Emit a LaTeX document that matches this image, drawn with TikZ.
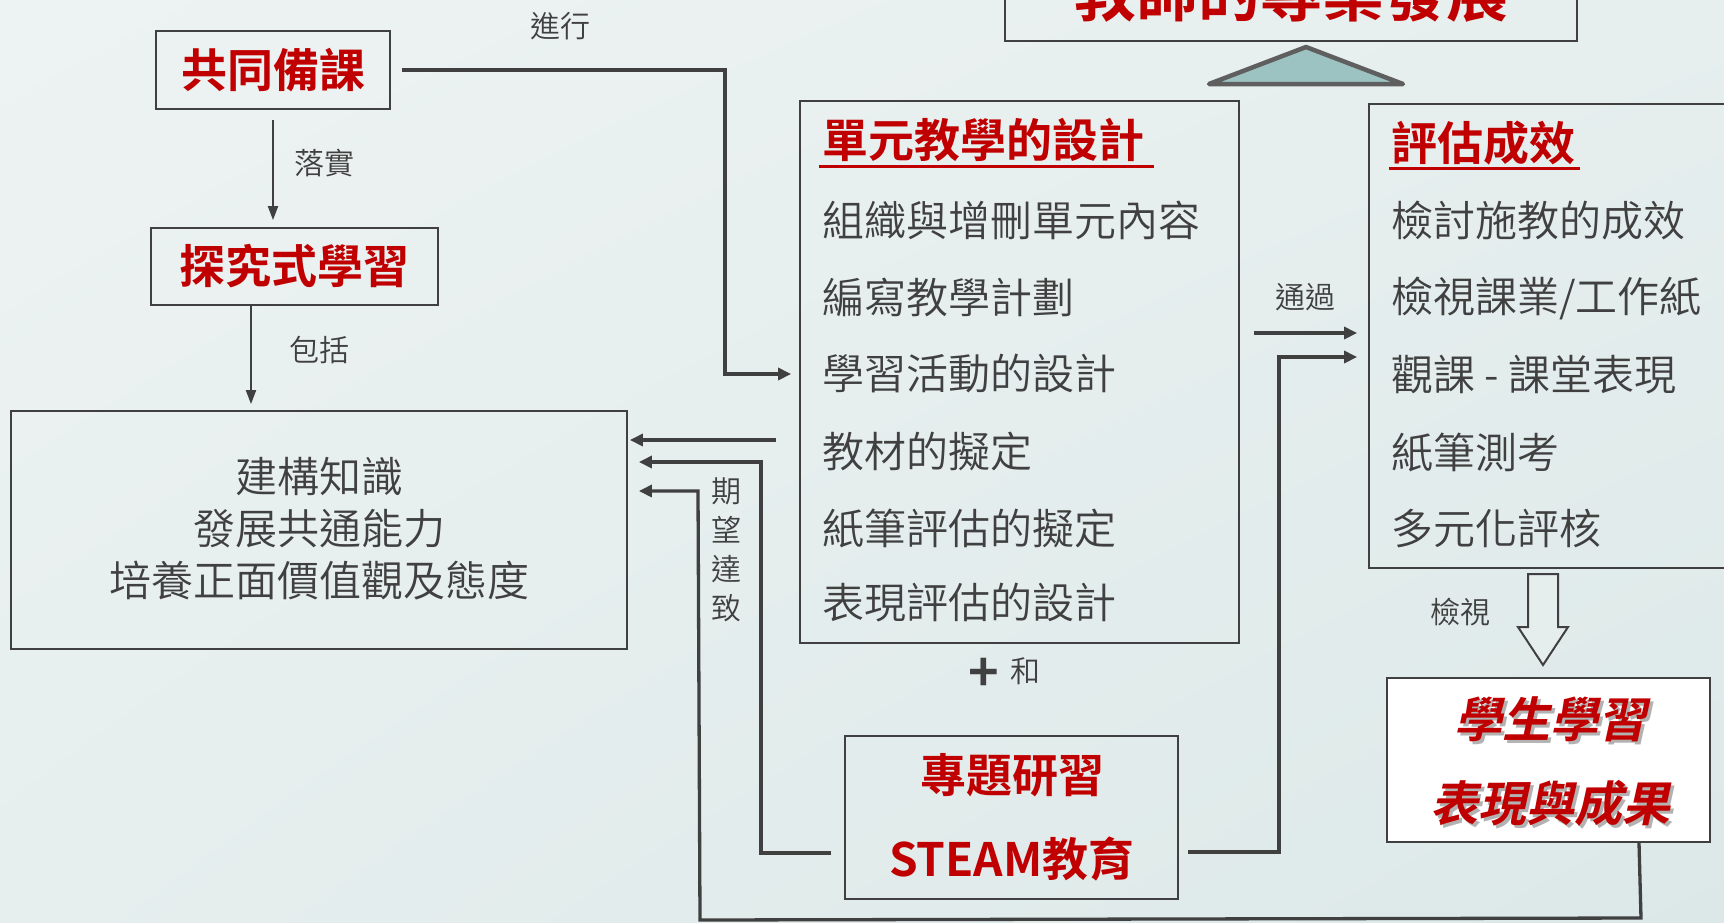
\documentclass[tikz,border=0pt]{standalone}
\usepackage{fontspec}
\setmainfont{Noto Sans CJK TC DemiLight}[BoldFont={Noto Sans CJK TC Bold}]
\newfontfamily\slantcjk{Noto Sans CJK TC DemiLight}[FakeSlant=0.22, BoldFont={Noto Sans CJK TC Bold}]
\usetikzlibrary{arrows.meta,calc,shadings}
\definecolor{bgA}{RGB}{237,243,242}
\definecolor{bgB}{RGB}{220,232,232}
\definecolor{ink}{RGB}{64,64,64}
\definecolor{redt}{RGB}{192,0,0}
\definecolor{tri}{RGB}{156,195,193}
\definecolor{trid}{RGB}{95,95,95}
\tikzset{
 box/.style={draw=ink, line width=1.8pt, inner sep=0pt},
 conn/.style={draw=ink, line width=3.3pt, -{Triangle[length=13pt,width=12pt]}},
 thinconn/.style={draw=ink, line width=2pt, -{Triangle[length=14pt,width=10pt]}},
 lbl/.style={text=ink, font=\fontsize{30}{32}\selectfont, inner sep=0pt},
 item/.style={text=ink, font=\fontsize{42}{48}\selectfont, anchor=west, inner sep=0pt},
 ttl/.style={text=redt, font=\fontsize{46}{52}\selectfont\bfseries, inner sep=0pt},
 stud/.style={font=\slantcjk\bfseries\fontsize{48}{48}\selectfont, inner sep=0pt},
}
\begin{document}
\begin{tikzpicture}[x=1pt,y=-1pt]
\useasboundingbox (0,0) rectangle (1724,922);
\shade[upper left=bgA, upper right=bgA!60!bgB, lower left=bgA!60!bgB, lower right=bgB] (0,0) rectangle (1724,922);

% top box
\node[box, minimum width=572pt, minimum height=90pt] (top) at (1291,-4) {};
\node[text=redt, font=\fontsize{62}{62}\selectfont\bfseries, inner sep=0pt] (toptxt) at (1291,-7) {教師的專業發展};
\draw[line width=4.5pt, draw=trid, fill=tri, line join=round, line cap=round] (1209,84) -- (1306,47) -- (1403,84) -- cycle;

% left column
\node[box, ttl, minimum width=234pt, minimum height=78pt] (gt) at (273,70) {共同備課};
\node[box, ttl, minimum width=287pt, minimum height=77pt] (tj) at (294.5,266.5) {探究式學習};
\node[box, minimum width=616pt, minimum height=238pt] (main) at (319,530) {};
\node[text=ink, font=\fontsize{42}{52}\selectfont, align=center, inner sep=0pt] (maintxt) at (319,529) {建構知識\\發展共通能力\\培養正面價值觀及態度};

% unit design box
\node[box, minimum width=439pt, minimum height=542pt] (dy) at (1019.5,372) {};
\node[ttl, anchor=west] (dyt) at (822,140) {單元教學的設計};
\draw[redt, line width=3pt] ([xshift=-3pt]dyt.west |- 0,166) -- ([xshift=10pt]dyt.east |- 0,166);
\node[item] (d1) at (822,220) {組織與增刪單元內容};
\node[item] (d2) at (822,297) {編寫教學計劃};
\node[item] (d3) at (822,374) {學習活動的設計};
\node[item] (d4) at (822,451) {教材的擬定};
\node[item] (d5) at (822,528) {紙筆評估的擬定};
\node[item] (d6) at (822,603) {表現評估的設計};

% evaluation box
\node[box, minimum width=371pt, minimum height=464pt] (pg) at (1554.5,336) {};
\node[ttl, anchor=west] (pgt) at (1391,143) {評估成效};
\draw[redt, line width=3pt] ([xshift=-2pt]pgt.west |- 0,168) -- ([xshift=5pt]pgt.east |- 0,168);
\node[item] (p1) at (1391,221) {檢討施教的成效};
\node[item] (p2) at (1391,298) {檢視課業/工作紙};
\node[item] (p3) at (1391,375) {觀課 - 課堂表現};
\node[item] (p4) at (1391,452) {紙筆測考};
\node[item] (p5) at (1391,529) {多元化評核};

% STEAM box
\node[box, minimum width=333pt, minimum height=163pt] (st) at (1011.5,817.5) {};
\node[ttl] (st1) at (1012,775) {專題研習};
\node[ttl] (st2) at (1012,859) {STEAM教育};

% student box
\node[box, fill=white, minimum width=323pt, minimum height=164pt] (sd) at (1548.5,760) {};
\node[stud, text=black!30] (sd1s) at (1553,722) {學生學習};
\node[stud, text=redt] (sd1) at (1550,719) {學生學習};
\node[stud, text=black!30] (sd2s) at (1553,806) {表現與成果};
\node[stud, text=redt] (sd2) at (1550,803) {表現與成果};

% hollow arrow
\draw[draw=ink, line width=2pt, fill=bgA!50!bgB] (1528,574) -- (1558,574) -- (1558,627) -- (1568,627) -- (1543,665) -- (1518,627) -- (1528,627) -- cycle;

% labels
\node[lbl] (l1) at (560,26) {進行};
\node[lbl] (l2) at (324,163) {落實};
\node[lbl] (l3) at (319,350) {包括};
\node[lbl] (l4) at (1305,297) {通過};
\node[lbl] (l5) at (1460,612) {檢視};
\node[lbl] (l7) at (1025,671) {和};
\node[text=ink, font=\fontsize{52}{52}\selectfont\bfseries, inner sep=0pt] (plus) at (984,675) {+};
\node[lbl, align=center, font=\fontsize{30}{39}\selectfont] (l6) at (726,550) {期\\望\\達\\致};

% connectors
\draw[thinconn, shorten <=10pt, shorten >=7pt] (gt.south) -- (gt.south |- tj.north);
\draw[thinconn, shorten >=6pt] (251,0 |- tj.south) -- (251,0 |- main.north);
\draw[conn, shorten <=11pt, shorten >=8pt] (gt.east) -- (725,0 |- gt.east) -- (725,0 |- d3) -- (dy.west |- d3);
\draw[conn, shorten <=23pt, shorten >=2pt] (dy.west |- 0,440) -- (main.east |- 0,440);
\draw[conn, shorten <=13pt, shorten >=11pt] (st.west |- 0,853) -- (761,853) -- (761,462) -- (main.east |- 0,462);
\draw[conn, shorten >=11pt] (1639,0 |- sd.south) -- (1641,918) -- (700,920) -- (698,491) -- (main.east |- 0,491);
\draw[conn, shorten <=14pt, shorten >=11pt] (dy.east |- 0,333) -- (pg.west |- 0,333);
\draw[conn, shorten <=9pt, shorten >=11pt] (st.east |- 0,852) -- (1279,852) -- (1279,357) -- (pg.west |- 0,357);
\end{tikzpicture}
\end{document}
